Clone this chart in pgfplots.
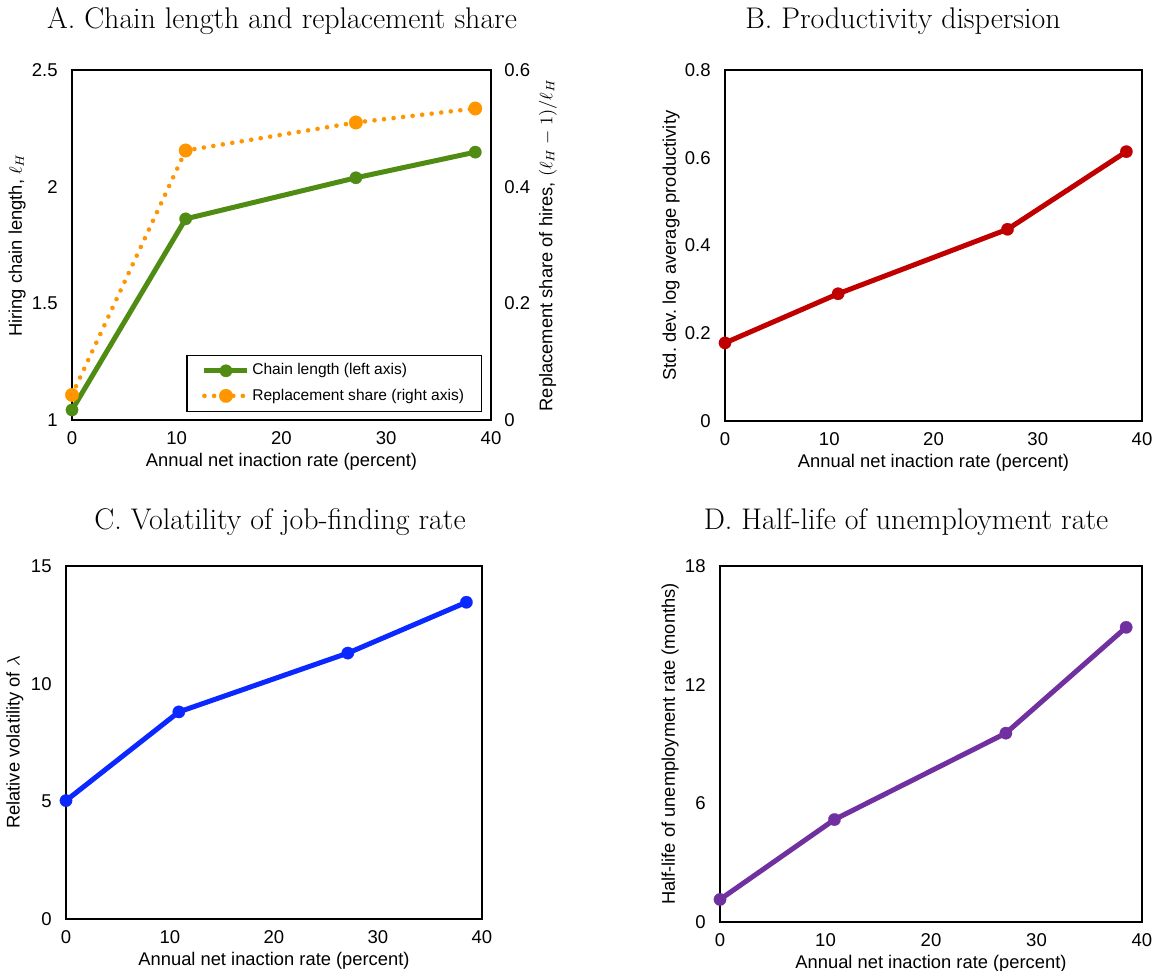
\documentclass[border=0pt]{standalone}
\usepackage{fontspec}
\setsansfont{Liberation Sans}
\usepackage{pgfplots}
\pgfplotsset{compat=1.18}

\definecolor{cgreen}{RGB}{80,140,20}
\definecolor{corange}{RGB}{255,150,0}
\definecolor{cred}{RGB}{192,0,0}
\definecolor{cblue}{RGB}{10,40,255}
\definecolor{cpurple}{RGB}{112,48,160}

\pgfplotsset{
  panel/.style={
    scale only axis,
    anchor=south west,
    xmin=0, xmax=40, xtick={0,10,20,30,40},
    major tick length=0pt,
    /pgf/number format/assume math mode=true,
    tick label style={font=\fontsize{9.3}{11}\sffamily, inner sep=0pt},
    xticklabel style={yshift=-5.5bp},
    label style={font=\fontsize{9.2}{11}\sffamily},
    xlabel style={at={(axis description cs:0.5,0)}, anchor=center, yshift=-21bp},
    axis line style={line width=0.6bp},
    clip=false,
  },
  leftticks/.style={yticklabel style={xshift=-7bp}},
  ser/.style={line width=2.5bp, mark=*, mark size=3.1bp, mark options={solid, line width=0.1bp}},
}

\begin{document}
\begin{tikzpicture}
\useasboundingbox (0,0) rectangle (577.5bp,-485.5bp);

% ---------------- Panel A ----------------
\begin{axis}[panel, leftticks,
  at={(36bp,-210bp)}, width=209.5bp, height=175bp,
  ymin=1, ymax=2.5, ytick={1,1.5,2,2.5},
  xlabel={Annual net inaction rate (percent)},
  ylabel={Hiring chain length, $\ell_H$},
  ylabel style={at={(axis description cs:-0.131,0.5)}, anchor=center},
]
\addplot[ser, color=cgreen] coordinates {(0,1.043) (10.85,1.862) (27.1,2.038) (38.5,2.148)};
\end{axis}
\begin{axis}[panel,
  at={(36bp,-210bp)}, width=209.5bp, height=175bp,
  ymin=0, ymax=0.6, ytick={0,0.2,0.4,0.6},
  axis y line*=right, axis x line=none,
  yticklabel style={xshift=6.5bp},
  ylabel={Replacement share of hires, $(\ell_H-1)/\ell_H$},
  ylabel style={at={(axis description cs:1.136,0.5)}, anchor=center},
  legend style={at={(1,0)}, anchor=south east, xshift=-4.5bp, yshift=4bp,
    draw=black, line width=0.6bp, font=\fontsize{7.8}{9}\sffamily,
    inner xsep=7.5bp, inner ysep=3bp, row sep=3bp,
    nodes={inner sep=1.2bp}},
  legend cell align=left,
  legend image code/.code={\draw[mark repeat=2, mark phase=2] plot coordinates {(0bp,0bp) (10.75bp,0bp) (21.5bp,0bp)};},
]
\addlegendimage{ser, color=cgreen}
\addlegendentry{Chain length (left axis)}
\addplot[ser, color=corange, line width=2.3bp, line cap=round, dash pattern=on 0bp off 4.8bp, mark size=3.4bp]
  coordinates {(0,0.043) (10.85,0.462) (27.1,0.510) (38.5,0.534)};
\addlegendentry{Replacement share (right axis)}
\end{axis}

% ---------------- Panel B ----------------
\begin{axis}[panel, leftticks,
  at={(362.5bp,-210.5bp)}, width=208.5bp, height=175.5bp,
  ymin=0, ymax=0.8, ytick={0,0.2,0.4,0.6,0.8},
  xlabel={Annual net inaction rate (percent)},
  ylabel={Std.\ dev.\ log average productivity},
  ylabel style={at={(axis description cs:-0.129,0.5)}, anchor=center},
]
\addplot[ser, color=cred] coordinates {(0,0.178) (10.85,0.290) (27.1,0.437) (38.5,0.614)};
\end{axis}

% ---------------- Panel C ----------------
\begin{axis}[panel, leftticks,
  at={(33bp,-459.5bp)}, width=208bp, height=176.5bp,
  ymin=0, ymax=15, ytick={0,5,10,15},
  xlabel={Annual net inaction rate (percent)},
  ylabel={Relative volatility of $\lambda$},
  ylabel style={at={(axis description cs:-0.123,0.5)}, anchor=center},
]
\addplot[ser, color=cblue] coordinates {(0,5.03) (10.85,8.8) (27.1,11.3) (38.5,13.46)};
\end{axis}

% ---------------- Panel D ----------------
\begin{axis}[panel, leftticks,
  at={(360bp,-461bp)}, width=211bp, height=178bp,
  ymin=0, ymax=18, ytick={0,6,12,18},
  xlabel={Annual net inaction rate (percent)},
  ylabel={Half-life of unemployment rate (months)},
  ylabel style={at={(axis description cs:-0.118,0.5)}, anchor=center},
]
\addplot[ser, color=cpurple] coordinates {(0,1.14) (10.85,5.18) (27.1,9.55) (38.5,14.9)};
\end{axis}

% ---------------- Titles ----------------
\node[font=\fontsize{15}{17}\selectfont, anchor=base] at (141bp,-14bp) {A. Chain length and replacement share};
\node[font=\fontsize{15}{17}\selectfont, anchor=base] at (451.5bp,-14bp) {B. Productivity dispersion};
\node[font=\fontsize{15}{17}\selectfont, anchor=base] at (140bp,-264.5bp) {C. Volatility of job-finding rate};
\node[font=\fontsize{15}{17}\selectfont, anchor=base] at (453bp,-264.5bp) {D. Half-life of unemployment rate};
\end{tikzpicture}
\end{document}
